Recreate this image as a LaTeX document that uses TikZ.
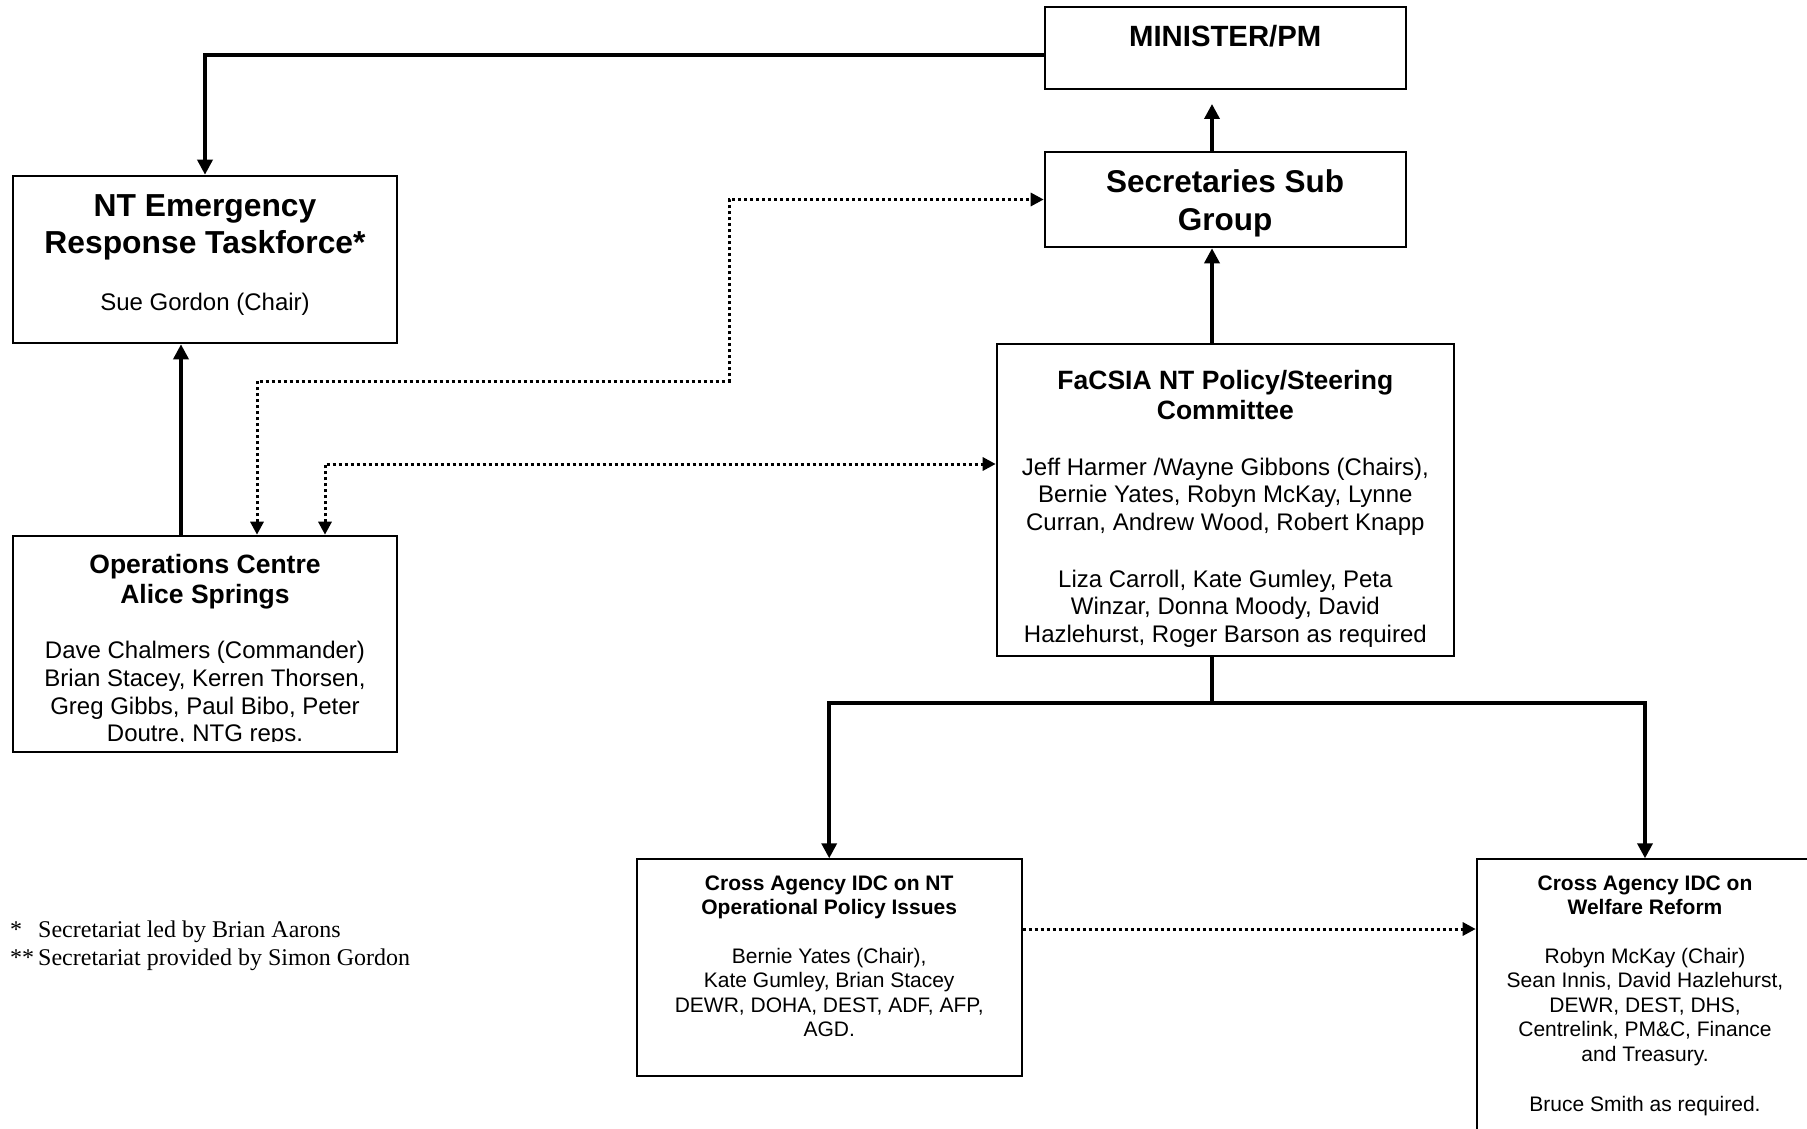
\documentclass[tikz,border=0pt]{standalone}
\usepackage{fontspec}
\setmainfont{Liberation Sans}
\newfontfamily\fnserif{Liberation Serif}
\usetikzlibrary{arrows.meta}
\begin{document}
\begin{tikzpicture}[x=1pt,y=-1pt,
  box/.style={draw, line width=2pt, inner sep=0pt, rectangle},
  txt/.style={inner sep=0pt, align=center, anchor=base},
  fn/.style={inner sep=0pt, anchor=base west, font=\fnserif\fontsize{24}{28}\selectfont},
  conn/.style={line width=3.5pt, -{Triangle[length=15pt,width=15pt]}},
  plainline/.style={line width=3.5pt},
  dots/.style={line width=3pt, dash pattern=on 3pt off 3pt, {Triangle[length=13pt,width=13pt]}-{Triangle[length=13pt,width=13pt]}},
  dotone/.style={line width=3pt, dash pattern=on 3pt off 3pt, -{Triangle[length=13pt,width=13pt]}},
  tbig/.style={font=\bfseries\fontsize{31.8}{37}\selectfont},
  tmid/.style={font=\bfseries\fontsize{26.5}{30}\selectfont},
  tsml/.style={font=\bfseries\fontsize{21}{24.2}\selectfont},
  bmid/.style={font=\fontsize{24}{27.7}\selectfont},
  bsml/.style={font=\fontsize{21}{24.5}\selectfont},
]
\useasboundingbox (0,0) rectangle (1807,1129);
\fill[white] (0,0) rectangle (1807,1129);
\clip (0,0) rectangle (1807,1129);

% boxes (multi-line text nodes are placed by the baseline of their last line)
\node[box, minimum width=361pt, minimum height=82pt] (min) at (1225.2,48.3) {};
\node[txt, font=\bfseries\fontsize{29.3}{34}\selectfont] (mint) at (1225.2,46.7) {MINISTER/PM};

\node[box, minimum width=361pt, minimum height=95.6pt] (sec) at (1225.2,199.5) {};
\node[txt, font=\bfseries\fontsize{31.5}{38}\selectfont] (sect) at (1225.2,230.3) {Secretaries Sub\\Group};

\node[box, minimum width=384.6pt, minimum height=167.6pt] (nt) at (205,259.5) {};
\node[txt, tbig] (ntt) at (205,253) {NT Emergency\\Response Taskforce*};
\node[txt, bmid] (ntb) at (205,310) {Sue Gordon (Chair)};

\node[box, minimum width=384.6pt, minimum height=216pt] (ops) at (205,643.7) {};
\node[txt, tmid] (opst) at (205,603) {Operations Centre\\Alice Springs};
\begin{scope}
\clip (14,537) rectangle (396,741);
\node[txt, bmid] (opsb) at (205,741.7) {Dave Chalmers (Commander)\\Brian Stacey, Kerren Thorsen,\\Greg Gibbs, Paul Bibo, Peter\\Doutre, NTG reps.};
\end{scope}

\node[box, minimum width=457.3pt, minimum height=311.7pt] (fac) at (1225.35,499.85) {};
\node[txt, tmid] (fact) at (1225.35,419.5) {FaCSIA NT Policy/Steering\\Committee};
\node[txt, bmid] (facb1) at (1225.35,530.4) {Jeff Harmer /Wayne Gibbons (Chairs),\\Bernie Yates, Robyn McKay, Lynne\\Curran, Andrew Wood, Robert Knapp};
\node[txt, bmid] (facb2) at (1225.35,642.4) {Liza Carroll, Kate Gumley, Peta\\Winzar, Donna Moody, David\\Hazlehurst, Roger Barson as required};

\node[box, minimum width=385pt, minimum height=216.7pt] (cnt) at (829.2,967.65) {};
\node[txt, tsml] (cntt) at (829.2,914.7) {Cross Agency IDC on NT\\Operational Policy Issues};
\node[txt, bsml] (cntb) at (829.2,1036.5) {Bernie Yates (Chair),\\Kate Gumley, Brian Stacey\\DEWR, DOHA, DEST, ADF, AFP,\\AGD.};

\node[box, minimum width=336.6pt, minimum height=285.7pt] (welf) at (1645,1002.15) {};
\node[txt, tsml] (welft) at (1645,914.7) {Cross Agency IDC on\\Welfare Reform};
\node[txt, bsml] (welfb1) at (1645,1061) {Robyn McKay (Chair)\\Sean Innis, David Hazlehurst,\\DEWR, DEST, DHS,\\Centrelink, PM\&C, Finance\\and Treasury.};
\node[txt, bsml] (welfb2) at (1645,1111) {Bruce Smith as required.};

% footnotes
\node[fn] (fn1a) at (10,937) {*};
\node[fn] (fn1b) at (38,937) {Secretariat led by Brian Aarons};
\node[fn] (fn2a) at (10,965) {**};
\node[fn] (fn2b) at (38,965) {Secretariat provided by Simon Gordon};

% connectors
\coordinate (c1) at (0,55);
\draw[conn] (min.west |- c1) -| (nt.north);
\coordinate (c2) at (181,0);
\draw[conn] (ops.north -| c2) -- (nt.south -| c2);
\coordinate (c3) at (257,381);
\coordinate (c4) at (729,199.5);
\draw[dots] (ops.north -| c3) -- (c3) -| (c4) -- (sec.west);
\coordinate (c5) at (325,464);
\draw[dots] (ops.north -| c5) |- (fac.west |- c5);
\coordinate (c7) at (1212,104);
\draw[conn] (sec.north -| c7) -- (c7);
\draw[conn] (fac.north -| c7) -- (sec.south -| c7);
\coordinate (c8) at (1212,703);
\draw[plainline] (fac.south -| c8) -- (c8);
\draw[conn] (c8) -| (cnt.north);
\draw[conn] (c8) -| (welf.north);
\coordinate (c9) at (0,929);
\draw[dotone] (cnt.east |- c9) -- (welf.west |- c9);
\end{tikzpicture}
\end{document}
